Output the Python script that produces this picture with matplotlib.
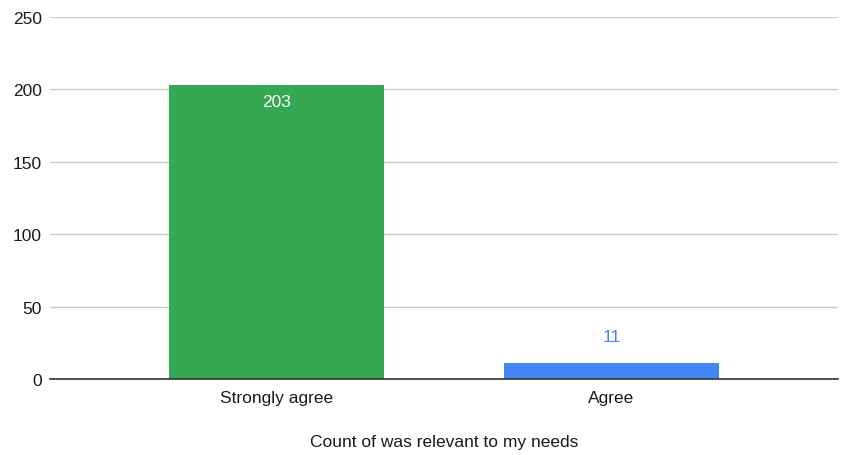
import matplotlib
matplotlib.use("Agg")
import matplotlib.pyplot as plt

categories = ["Strongly agree", "Agree"]
counts = [203, 11]
colors = ["#34A853", "#4285F4"]
xlabel = "Count of was relevant to my needs"
yticks = [0, 50, 100, 150, 200, 250]

plt.rcParams['font.family'] = ['Liberation Sans', 'DejaVu Sans']

fig = plt.figure(figsize=(8.44, 4.56), dpi=100)
ax = fig.add_axes([50/844, 1-380/456, 788/844, 362/456])

x = list(range(len(categories)))
bars = ax.bar(x, counts, width=0.642, color=colors, zorder=3)

ax.set_xlim(-0.676, 1.676)
ax.set_ylim(0, 250)
ax.set_yticks(yticks)
ax.set_xticks(x)
ax.set_xticklabels(categories)
ax.tick_params(axis='both', length=0, labelsize=12.5, colors='#1a1a1a')
ax.tick_params(axis='y', pad=6)
ax.tick_params(axis='x', pad=8)
ax.grid(axis='y', color='#cccccc', linewidth=1, zorder=0)
for s in ['top', 'right', 'left']:
    ax.spines[s].set_visible(False)
ax.spines['bottom'].set_color('#333333')
ax.spines['bottom'].set_linewidth(1.2)
ax.spines['bottom'].set_zorder(4)

ax.set_xlabel(xlabel, fontsize=12.5, color='#1a1a1a', labelpad=21)

for b, v, c in zip(bars, counts, colors):
    cx = b.get_x() + b.get_width()/2
    if v > 30:
        ax.annotate(str(v), (cx, v), xytext=(0, -12), textcoords='offset points',
                    ha='center', va='center', color='white', fontsize=12.5)
    else:
        ax.annotate(str(v), (cx, v), xytext=(0, 19), textcoords='offset points',
                    ha='center', va='center', color=c, fontsize=12.5)

fig.savefig("out.png", dpi=100)
